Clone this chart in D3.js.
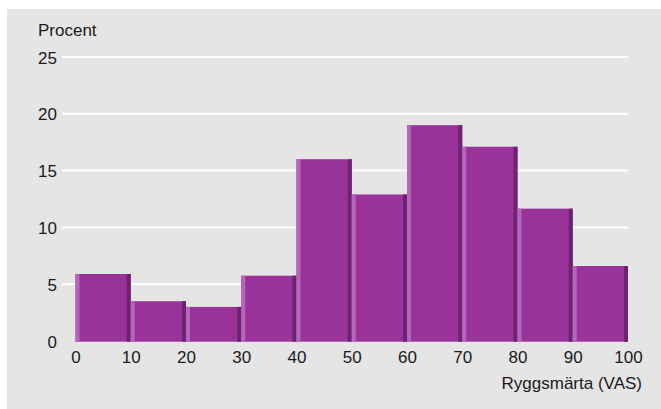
<!DOCTYPE html>
<html>
<head>
<meta charset="utf-8">
<script src="https://cdn.jsdelivr.net/npm/d3@7"></script>
<style>
  body { margin: 0; background: #fff; }
  svg text { font-family: "Liberation Sans", Arial, sans-serif; fill: #1a1a1a; }
</style>
</head>
<body>
<div id="chart"></div>
<script>
// bins of back pain (VAS), share of patients in percent
const binStarts = [0, 10, 20, 30, 40, 50, 60, 70, 80, 90];
const binWidth = 10;
const percents = [5.9, 3.5, 3.0, 5.75, 16.0, 12.9, 19.0, 17.1, 11.65, 6.6];
const yTicks = [0, 5, 10, 15, 20, 25];
const xTicks = [0, 10, 20, 30, 40, 50, 60, 70, 80, 90, 100];

const W = 661, H = 409;

const svg = d3.select('#chart').append('svg')
    .attr('width', W)
    .attr('height', H);

// gray panel
svg.append('rect')
    .attr('x', 7).attr('y', 9)
    .attr('width', W - 7).attr('height', H - 9)
    .attr('fill', '#e5e5e5');

const x = d3.scaleLinear().domain([0, 100]).range([75.5, 628]);
const y = d3.scaleLinear().domain([0, 25]).range([341, 57]);

// GRIDLINES (no line at zero)
svg.append('g').selectAll('line')
    .data(yTicks.filter(d => d > 0))
    .join('line')
    .attr('x1', 62)
    .attr('x2', x(100))
    .attr('y1', d => y(d))
    .attr('y2', d => y(d))
    .attr('stroke', '#fff')
    .attr('stroke-width', 2);

// Y AXIS LABELS
const yAxis = d3.axisLeft(y).tickValues(yTicks).tickSize(0).tickPadding(0);
svg.append('g')
    .attr('transform', 'translate(57,0)')
    .call(yAxis)
    .call(g => g.select('.domain').remove())
    .selectAll('text')
    .attr('dy', '0.36em')
    .style('font-size', '17px')
    .style('font-family', '"Liberation Sans", Arial, sans-serif')
    .attr('fill', '#1a1a1a');

// X AXIS LABELS
const xAxis = d3.axisBottom(x).tickValues(xTicks).tickSize(0).tickPadding(0);
svg.append('g')
    .attr('transform', 'translate(0,351)')
    .call(xAxis)
    .call(g => g.select('.domain').remove())
    .selectAll('text')
    .attr('dy', '0.71em')
    .style('font-size', '17px')
    .style('font-family', '"Liberation Sans", Arial, sans-serif')
    .attr('fill', '#1a1a1a');

// BARS: main body + light left edge + dark right edge
const edge = 4;
const bars = svg.append('g').selectAll('g')
    .data(binStarts.map((s, i) => ({ start: s, value: percents[i] })))
    .join('g');

bars.append('rect')
    .attr('x', d => x(d.start))
    .attr('width', d => x(d.start + binWidth) - x(d.start))
    .attr('y', d => y(d.value))
    .attr('height', d => y(0) - y(d.value) + 0.7)
    .attr('fill', '#993399');

bars.append('rect')
    .attr('x', d => x(d.start))
    .attr('width', edge)
    .attr('y', d => y(d.value))
    .attr('height', d => y(0) - y(d.value) + 0.7)
    .attr('fill', '#b566b8');

bars.append('rect')
    .attr('x', d => x(d.start + binWidth) - edge)
    .attr('width', edge)
    .attr('y', d => y(d.value))
    .attr('height', d => y(0) - y(d.value) + 0.7)
    .attr('fill', '#6c2371');

// TITLES
svg.append('text')
    .attr('x', 38)
    .attr('y', 36)
    .style('font-size', '17px')
    .text('Procent');

svg.append('text')
    .attr('x', 642)
    .attr('y', 389)
    .attr('text-anchor', 'end')
    .style('font-size', '17px')
    .text('Ryggsmärta (VAS)');
</script>
</body>
</html>
